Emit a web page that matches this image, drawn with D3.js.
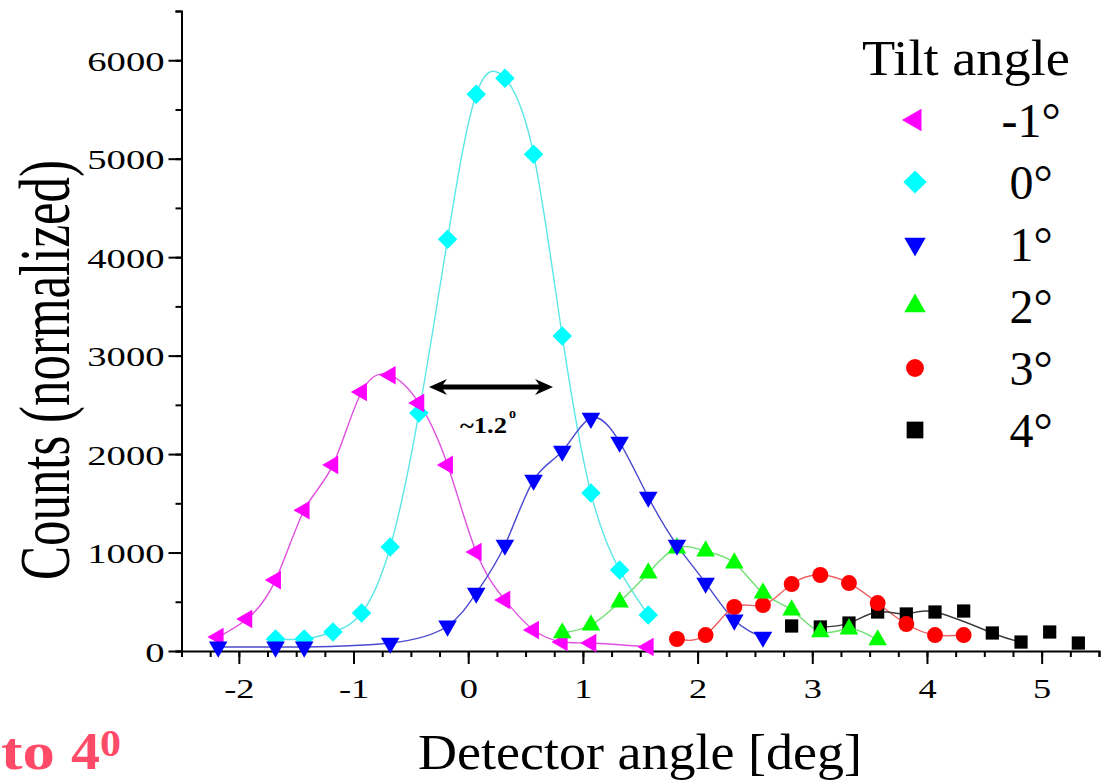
<!DOCTYPE html>
<html><head><meta charset="utf-8">
<script src="https://cdn.jsdelivr.net/npm/d3@7"></script>
<style>body{margin:0;background:#fff} svg{display:block}</style>
</head><body>
<svg id="c" width="1108" height="782"></svg>
<script>
// ---- data ----
const seriesNames = ["-1°", "0°", "1°", "2°", "3°", "4°"];

const xNeg1 = [-2.18,-1.93,-1.68,-1.43,-1.18,-0.93,-0.68,-0.43,-0.18,0.07,0.32,0.57,0.82,1.07,1.57];
const yNeg1 = [142,325,720,1430,1890,2630,2800,2520,1890,1005,518,213,91,81,41];

const x0 = [-1.68,-1.43,-1.18,-0.93,-0.68,-0.43,-0.18,0.07,0.32,0.57,0.82,1.07,1.32,1.57];
const y0 = [122,122,193,386,1056,2416,4183,5655,5817,5046,3198,1604,822,365];

const x1 = [-2.18,-1.68,-1.43,-0.68,-0.18,0.07,0.32,0.57,0.82,1.07,1.32,1.57,1.82,2.07,2.32,2.57];
const y1 = [41,41,41,81,254,589,1076,1736,2030,2365,2122,1563,1076,690,315,142];

const x2 = [0.82,1.07,1.32,1.57,1.82,2.07,2.32,2.57,2.82,3.07,3.32,3.57];
const y2 = [183,264,497,792,1046,1015,893,589,416,193,223,112];

const x3 = [1.82,2.07,2.32,2.57,2.82,3.07,3.32,3.57,3.82,4.07,4.32];
const y3 = [122,162,447,467,680,772,690,487,274,162,162];

const x4 = [2.82,3.07,3.32,3.57,3.82,4.07,4.32,4.57,4.82,5.07,5.32];
const y4 = [254,244,284,396,376,396,406,183,91,193,81];

// x values that each connecting curve passes through
const lineNeg1 = [-2.18,-1.93,-1.68,-1.43,-1.18,-0.93,-0.68,-0.43,-0.18,0.07,0.32,0.57,0.82,1.07,1.57];
const line0 = [-1.68,-1.43,-1.18,-0.93,-0.68,-0.43,-0.18,0.07,0.32,0.57,0.82,1.07,1.32,1.57];
const line1 = [-2.18,-1.68,-1.43,-0.68,-0.18,0.07,0.32,0.57,0.82,1.07,1.32,1.57,1.82,2.07,2.32,2.57];
const line2 = [0.82,1.07,1.32,1.57,1.82,2.07,2.32,2.57,2.82,3.07,3.32,3.57];
const line3 = [1.82,2.07,2.32,2.57,2.82,3.07,3.32,3.57,3.82,4.07,4.32];
const line4 = [3.07,3.32,3.57,3.82,4.07,4.57,4.82];

const xMajorTicks = [-2,-1,0,1,2,3,4,5];
const yMajorTicks = [0,1000,2000,3000,4000,5000,6000];

// ---- styles ----
const markerColors = ["#ff00ff","#00ffff","#0000ff","#00ff00","#ff0000","#000000"];
const lineColors   = ["#e050e0","#5ce6e6","#4a4ad0","#70e070","#f06060","#3a3a3a"];
const shapes = ["left","diamond","down","up","circle","square"];
const serif = "'Liberation Serif','Times New Roman',serif";

const series = [
  {x:xNeg1,y:yNeg1,line:lineNeg1},
  {x:x0,y:y0,line:line0},
  {x:x1,y:y1,line:line1},
  {x:x2,y:y2,line:line2},
  {x:x3,y:y3,line:line3},
  {x:x4,y:y4,line:line4}
].map((s,i)=>({...s, i, pts:s.x.map((v,k)=>[v,s.y[k]])}));

const svg = d3.select("#c");
const X = d3.scaleLinear().domain([-2.5,5.5]).range([181.5,1099]);
const Y = d3.scaleLinear().domain([0,6500]).range([651,11]);

function symbolPath(shape, size){
  if(shape==="circle") return d3.symbol(d3.symbolCircle,size)();
  if(shape==="square"||shape==="diamond") return d3.symbol(d3.symbolSquare,size)();
  return d3.symbol(d3.symbolTriangle,size)();
}
function symbolRot(shape){
  return {left:-90,down:180,diamond:45}[shape]||0;
}
function stretch(sel,f){
  sel.each(function(){const L=this.getComputedTextLength();
    d3.select(this).attr("textLength",L*f).attr("lengthAdjust","spacingAndGlyphs");});
}

// ---- axes ----
const gx = svg.append("g").attr("transform",`translate(0,${Y(0)})`);
gx.call(d3.axisBottom(X).tickValues(d3.range(-2.5,5.51,0.25)).tickSize(6).tickFormat(""));
const gxM = svg.append("g").attr("transform",`translate(0,${Y(0)})`);
gxM.call(d3.axisBottom(X).tickValues(xMajorTicks).tickSize(13).tickFormat(d=>String(d)));
const gy = svg.append("g").attr("transform",`translate(${X(-2.5)},0)`);
gy.call(d3.axisLeft(Y).tickValues(d3.range(0,6501,500)).tickSize(6).tickFormat(""));
const gyM = svg.append("g").attr("transform",`translate(${X(-2.5)},0)`);
gyM.call(d3.axisLeft(Y).tickValues(yMajorTicks).tickSize(13).tickPadding(4).tickFormat(d=>String(d)));
svg.selectAll(".domain").attr("stroke","#000").attr("stroke-width",2);
svg.selectAll(".tick line").attr("stroke","#000").attr("stroke-width",2);
gxM.selectAll(".domain").remove(); gyM.selectAll(".domain").remove();
gxM.selectAll("text").attr("font-family",serif).attr("font-size",28).attr("fill","#000")
   .attr("dy",0).attr("y",47).call(stretch,1.3);
gyM.selectAll("text").attr("font-family",serif).attr("font-size",28).attr("fill","#000")
   .attr("dy","0.36em").call(stretch,1.38);

// axis titles
svg.append("text").attr("x",640).attr("y",769).attr("text-anchor","middle")
  .attr("font-family",serif).attr("font-size",50).attr("fill","#000")
  .attr("textLength",444).attr("lengthAdjust","spacingAndGlyphs")
  .text("Detector angle [deg]");
svg.append("text").attr("transform","translate(69,370) rotate(-90) scale(1,1.4)")
  .attr("text-anchor","middle").attr("font-family",serif).attr("font-size",51).attr("fill","#000")
  .attr("textLength",420).attr("lengthAdjust","spacingAndGlyphs")
  .text("Counts (normalized)");

// ---- curves ----
const line = d3.line().x(d=>X(d[0])).y(d=>Y(d[1])).curve(d3.curveNatural);
svg.append("g").selectAll("path").data(series).join("path")
  .attr("d",s=>line(s.pts.filter(p=>s.line.includes(p[0]))))
  .attr("fill","none").attr("stroke",s=>lineColors[s.i]).attr("stroke-width",1.4);

// ---- markers ----
const sizes = {left:150,up:150,down:150,diamond:190,circle:200,square:175};
const drawOrder = [1,0,5,4,3,2];
drawOrder.forEach(i=>{
  const s = series[i], sh = shapes[i];
  svg.append("g").selectAll("path").data(s.pts).join("path")
    .attr("d",symbolPath(sh,sizes[sh]))
    .attr("transform",d=>`translate(${X(d[0])},${Y(d[1])}) rotate(${symbolRot(sh)})`)
    .attr("fill",markerColors[i]);
});

// ---- legend ----
svg.append("text").attr("x",862).attr("y",75).attr("font-family",serif).attr("font-size",50)
  .attr("fill","#000").attr("textLength",208).attr("lengthAdjust","spacingAndGlyphs").text("Tilt angle");
const legSizes = {left:220,up:200,down:200,diamond:270,circle:250,square:280};
const lg = svg.append("g").selectAll("g").data(seriesNames).join("g")
  .attr("transform",(d,i)=>`translate(0,${120+i*62})`);
lg.append("path").attr("d",(d,i)=>symbolPath(shapes[i],legSizes[shapes[i]]))
  .attr("transform",(d,i)=>`translate(915,0) rotate(${symbolRot(shapes[i])})`)
  .attr("fill",(d,i)=>markerColors[i]);
lg.append("text").attr("x",1031).attr("y",17).attr("text-anchor","middle")
  .attr("font-family",serif).attr("font-size",48).attr("fill","#000").text(d=>d);

// ---- annotation: FWHM arrow ----
const ay = 387;
const arrow = d3.path();
arrow.moveTo(429,ay); arrow.lineTo(447,ay-8); arrow.lineTo(443,ay-2.5);
arrow.lineTo(539,ay-2.5); arrow.lineTo(535,ay-8); arrow.lineTo(553,ay);
arrow.lineTo(535,ay+8); arrow.lineTo(539,ay+2.5); arrow.lineTo(443,ay+2.5);
arrow.lineTo(447,ay+8); arrow.closePath();
svg.append("path").attr("d",arrow.toString()).attr("fill","#000");
svg.append("text").attr("x",460).attr("y",433).attr("font-family",serif).attr("font-weight","bold")
  .attr("font-size",23).attr("fill","#000").attr("textLength",47).attr("lengthAdjust","spacingAndGlyphs").text("~1.2");
svg.append("text").attr("x",509).attr("y",418).attr("font-family",serif).attr("font-weight","bold")
  .attr("font-size",14).attr("fill","#000").text("o");

// ---- red caption fragment ----
const red = "#ff4a68";
svg.append("text").attr("x",1).attr("y",769).attr("font-family",serif).attr("font-weight","bold")
  .attr("font-size",52).attr("fill",red).attr("textLength",54).attr("lengthAdjust","spacingAndGlyphs").text("to");
svg.append("text").attr("x",71).attr("y",769).attr("font-family",serif).attr("font-weight","bold")
  .attr("font-size",52).attr("fill",red).attr("textLength",29).attr("lengthAdjust","spacingAndGlyphs").text("4");
svg.append("text").attr("x",100).attr("y",756).attr("font-family",serif).attr("font-weight","bold")
  .attr("font-size",38).attr("fill",red).attr("textLength",21).attr("lengthAdjust","spacingAndGlyphs").text("0");
</script>
</body></html>
